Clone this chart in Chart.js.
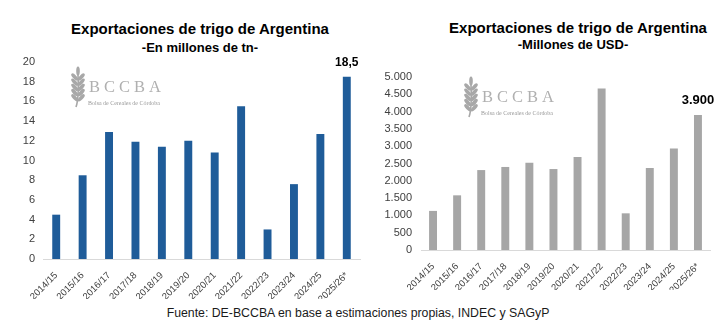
<!DOCTYPE html>
<html>
<head>
<meta charset="utf-8">
<script src="https://cdn.jsdelivr.net/npm/chart.js@4.4.1/dist/chart.umd.min.js"></script>
<style>
    body { margin: 0; background: #fff; width: 725px; height: 330px; position: relative; overflow: hidden; font-family: 'Liberation Sans', Arial, sans-serif; }
    .box { position: absolute; top: 0; height: 300px; }
    #boxTn { left: 0; width: 365px; }
    #boxUsd { left: 362px; width: 363px; }
    .titulo { position: absolute; text-align: center; font-weight: bold; color: #000; white-space: nowrap; }
    .t1 { font-size: 15px; line-height: 18px; width: 300px; }
    .t2 { font-size: 13px; line-height: 16px; width: 200px; }
    #fuente { position: absolute; left: 0; width: 716px; top: 305px; text-align: center; font-size: 12.3px; line-height: 16px; color: #1a1a1a; }
</style>
</head>
<body>
<div class="titulo t1" style="left:50px; top:20px;">Exportaciones de trigo de Argentina</div>
<div class="titulo t2" style="left:100px; top:40px;">-En millones de tn-</div>
<div class="titulo t1" style="left:428px; top:19px;">Exportaciones de trigo de Argentina</div>
<div class="titulo t2" style="left:473px; top:37px;">-Millones de USD-</div>

<div class="box" id="boxTn"><canvas id="chartTn"></canvas></div>
<div class="box" id="boxUsd"><canvas id="chartUsd"></canvas></div>

<div id="fuente">Fuente: DE-BCCBA en base a estimaciones propias, INDEC y SAGyP</div>

<script>
// campaigns and export values
const campanas = ['2014/15', '2015/16', '2016/17', '2017/18', '2018/19', '2019/20',
    '2020/21', '2021/22', '2022/23', '2023/24', '2024/25', '2025/26*']
const exportTn = [4.5, 8.5, 12.9, 11.9, 11.4, 12.0, 10.8, 15.5, 3.0, 7.6, 12.7, 18.5]
const exportUsd = [1130, 1580, 2310, 2400, 2520, 2340, 2690, 4670, 1060, 2370, 2930, 3900]

// axis limits
const maxTn = 20
const stepTn = 2
const maxUsd = 5000
const stepUsd = 500

Chart.defaults.font.family = "'Liberation Sans', Arial, sans-serif"

function fmtMiles(v) {
    return String(Math.round(v)).replace(/\B(?=(\d{3})+(?!\d))/g, '.')
}

function fmtDecimal(v) {
    return v.toFixed(1).replace('.', ',')
}

// wheat ear for the watermark
function drawWheat(ctx, x, y, h) {
    ctx.save()
    ctx.fillStyle = '#a8a8a8'
    ctx.strokeStyle = '#a8a8a8'
    ctx.lineWidth = 1.6
    ctx.beginPath()
    ctx.moveTo(x, y + 8)
    ctx.quadraticCurveTo(x + 1, y + h * 0.8, x - 2, y + h)
    ctx.stroke()
    ctx.beginPath()
    ctx.ellipse(x, y + 4, 1.8, 4.5, 0, 0, Math.PI * 2)
    ctx.fill()
    for (let i = 0; i < 5; i++) {
        let ly = y + 10 + i * 5.2
        ctx.beginPath()
        ctx.ellipse(x - 3.3, ly, 1.9, 4.6, -0.75, 0, Math.PI * 2)
        ctx.fill()
        ctx.beginPath()
        ctx.ellipse(x + 3.3, ly, 1.9, 4.6, 0.75, 0, Math.PI * 2)
        ctx.fill()
    }
    ctx.restore()
}

// BCCBA logo behind the bars
const watermark = {
    id: 'watermark',
    beforeDatasetsDraw(chart, args, opts) {
        const ctx = chart.ctx
        drawWheat(ctx, opts.x, opts.y, 40)
        ctx.save()
        ctx.fillStyle = '#b0b0b0'
        ctx.font = "16.5px 'Liberation Serif', 'DejaVu Serif', serif"
        ctx.letterSpacing = '4px'
        ctx.textBaseline = 'alphabetic'
        ctx.fillText('BCCBA', opts.x + 11, opts.y + 25)
        ctx.letterSpacing = '0px'
        ctx.fillStyle = '#9a9a9a'
        ctx.font = "6.5px 'Liberation Serif', 'DejaVu Serif', serif"
        ctx.fillText('Bolsa de Cereales de Córdoba', opts.x + 10, opts.y + 38, 72)
        ctx.restore()
    }
}

// value over the last bar
const lastValue = {
    id: 'lastValue',
    afterDatasetsDraw(chart, args, opts) {
        const meta = chart.getDatasetMeta(0)
        const bar = meta.data[meta.data.length - 1]
        const values = chart.data.datasets[0].data
        const ctx = chart.ctx
        ctx.save()
        ctx.font = 'bold ' + opts.size + "px 'Liberation Sans', Arial, sans-serif"
        ctx.fillStyle = '#000'
        ctx.textAlign = 'center'
        ctx.textBaseline = 'middle'
        ctx.fillText(opts.format(values[values.length - 1]), bar.x, bar.y - opts.offset)
        ctx.restore()
    }
}

function baseOptions(padding, yWidth, yPad) {
    return {
        responsive: true,
        maintainAspectRatio: false,
        animation: false,
        layout: { padding: padding },
        plugins: {
            legend: { display: false },
            tooltip: { enabled: false }
        },
        scales: {
            x: {
                grid: { display: false },
                border: { color: '#d9d9d9' },
                ticks: { autoSkip: false, minRotation: 45, maxRotation: 45, color: '#404040', font: { size: 9.5 } },
                // rotated labels fit inside the y axis gutter
                afterFit(scale) {
                    scale.paddingLeft = 0
                    scale.paddingRight = 0
                    scale.height = 40
                }
            },
            y: {
                min: 0,
                grid: { display: false, drawTicks: false },
                border: { display: false },
                ticks: { color: '#404040', font: { size: 11 }, padding: yPad },
                afterFit(scale) {
                    scale.width = yWidth
                }
            }
        }
    }
}

// FIRST CHART - tonnes
const optTn = baseOptions({ left: 23, right: 5, top: 62, bottom: 1 }, 20, 8)
optTn.scales.y.max = maxTn
optTn.scales.y.ticks.stepSize = stepTn
optTn.plugins.watermark = { x: 78, y: 67 }
optTn.plugins.lastValue = { size: 12, offset: 14, format: fmtDecimal }

const chartTn = new Chart(document.getElementById('chartTn'), {
    type: 'bar',
    data: {
        labels: campanas,
        datasets: [{
            data: exportTn,
            backgroundColor: '#1f5c99',
            barPercentage: 0.6,
            categoryPercentage: 0.5
        }]
    },
    options: optTn,
    plugins: [watermark, lastValue]
})

// SECOND CHART - USD
const optUsd = baseOptions({ left: 22, right: 15, top: 77, bottom: 10 }, 37, 9)
optUsd.scales.y.max = maxUsd
optUsd.scales.y.ticks.stepSize = stepUsd
optUsd.scales.y.ticks.callback = v => fmtMiles(v)
optUsd.plugins.watermark = { x: 109, y: 77 }
optUsd.plugins.lastValue = { size: 13, offset: 15, format: fmtMiles }

const chartUsd = new Chart(document.getElementById('chartUsd'), {
    type: 'bar',
    data: {
        labels: campanas,
        datasets: [{
            data: exportUsd,
            backgroundColor: '#a6a6a6',
            barPercentage: 0.66,
            categoryPercentage: 0.5
        }]
    },
    options: optUsd,
    plugins: [watermark, lastValue]
})
</script>
</body>
</html>
